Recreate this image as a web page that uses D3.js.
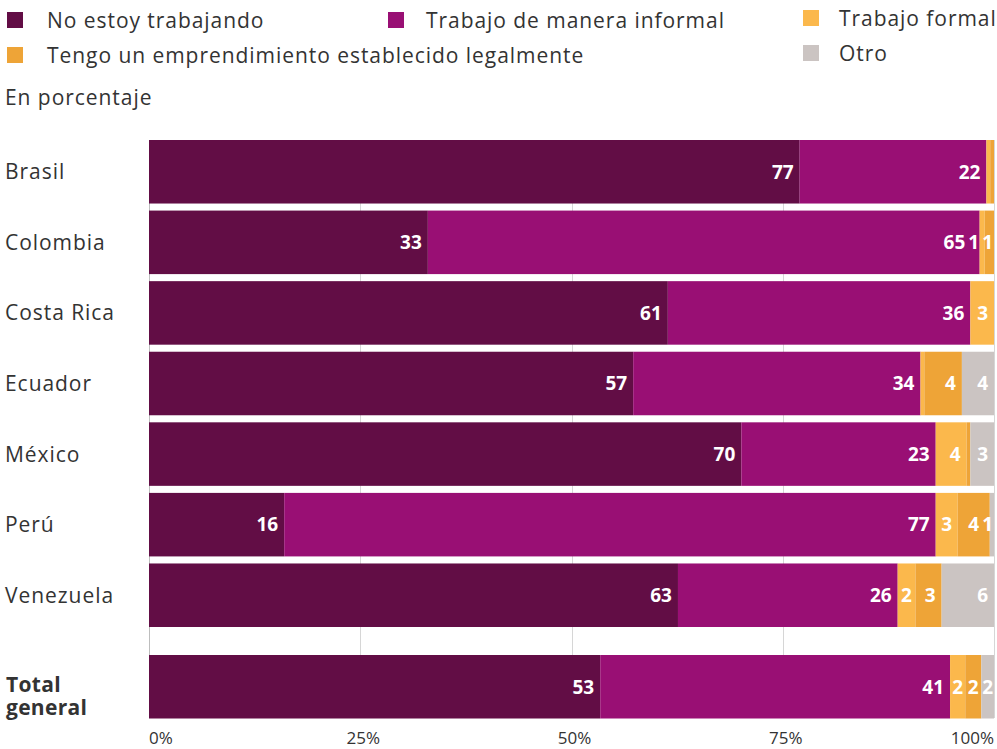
<!DOCTYPE html>
<html>
<head>
<meta charset="utf-8">
<script src="https://cdn.jsdelivr.net/npm/d3@7"></script>
<style>
  html, body { margin: 0; padding: 0; background: #fff; }
  svg { display: block; font-family: "Open Sans", Lato, sans-serif; }
</style>
</head>
<body>
<svg id="chart" width="997" height="749"></svg>
<script>
// Countries plus the overall total row
const categories = ["Brasil", "Colombia", "Costa Rica", "Ecuador", "México", "Perú", "Venezuela"];
const totalCategory = "Total general";

const seriesNames = [
  "No estoy trabajando",
  "Trabajo de manera informal",
  "Trabajo formal",
  "Tengo un emprendimiento establecido legalmente",
  "Otro"
];
const seriesColors = ["#620d45", "#990f74", "#fbb84c", "#eea437", "#cbc4c2"];

// Percent values, one entry per row (countries then total)
const noTrabajando   = [77.0, 33.0, 61.4, 57.3, 70.1, 16.0, 62.6, 53.4];
const informal       = [22.1, 65.3, 35.8, 34.0, 23.0, 77.1, 26.0, 41.4];
const formal         = [0.45, 0.6, 2.8, 0.45, 3.65, 2.6, 2.1, 1.8];
const emprendimiento = [0.45, 1.1, 0.0, 4.45, 0.45, 3.8, 3.1, 1.9];
const otro           = [0.0, 0.0, 0.0, 3.8, 2.8, 0.5, 6.2, 1.5];

const xTicks = [0, 25, 50, 75, 100];

const svg = d3.select("#chart");
const textColor = "#333";
const spacing = "0.95px";

const rows = categories.concat([totalCategory]);
const table = rows.map((name, i) => ({
  name,
  values: [noTrabajando[i], informal[i], formal[i], emprendimiento[i], otro[i]]
}));

const x = d3.scaleLinear().domain([0, 100]).range([149, 994]);
const yCountries = d3.scaleBand().domain(categories).range([140, 627]).paddingInner(0.1);
const yTotal = d3.scaleBand().domain([totalCategory]).range([655, 718.5]);
const yPos = name => name === totalCategory ? yTotal(name) : yCountries(name);
const bandH = yCountries.bandwidth();

// Gridlines behind the bars
const gridG = svg.append("g");
gridG.selectAll("line").data(xTicks).join("line")
  .attr("x1", d => Math.round(x(d)) + 0.5).attr("x2", d => Math.round(x(d)) + 0.5)
  .attr("y1", 140).attr("y2", 718)
  .attr("stroke", d => d === 0 ? "#bdbdbd" : "#d6d6d6").attr("stroke-width", 1);

// Stacked segments
const stacked = table.map(row => {
  let acc = 0;
  return row.values.map((v, k) => {
    const seg = { row: row.name, k, v, x0: acc, x1: acc + v };
    acc += v;
    return seg;
  });
});

const barsG = svg.append("g");
stacked.forEach(segs => {
  barsG.selectAll(null).data(segs.filter(s => s.v > 0)).join("rect")
    .attr("x", s => x(s.x0))
    .attr("width", s => x(s.x1) - x(s.x0))
    .attr("y", s => yPos(s.row))
    .attr("height", s => s.row === totalCategory ? yTotal.bandwidth() : bandH)
    .attr("fill", s => seriesColors[s.k]);
});

// Value labels inside segments: right-aligned when they fit, centred otherwise,
// then nudged leftwards so neighbouring labels never collide
const labelG = svg.append("g")
  .attr("font-size", 19).attr("font-weight", 700).attr("fill", "#fff");
const pad = 6;
stacked.forEach(segs => {
  const items = [];
  segs.forEach(s => {
    const r = Math.round(s.v);
    if (r < 1) return;
    const h = s.row === totalCategory ? yTotal.bandwidth() : bandH;
    const t = labelG.append("text")
      .attr("y", yPos(s.row) + h / 2)
      .attr("dy", "0.36em")
      .attr("text-anchor", "end")
      .text(r);
    const w = t.node().getComputedTextLength();
    const segW = x(s.x1) - x(s.x0);
    let right = segW >= w + 2 * pad ? x(s.x1) - pad : (x(s.x0) + x(s.x1)) / 2 + w / 2;
    items.push({ t, w, right });
  });
  let limit = x(100) - 1;
  for (let i = items.length - 1; i >= 0; i--) {
    const it = items[i];
    it.right = Math.min(it.right, limit);
    limit = it.right - it.w - 3;
    it.t.attr("x", it.right);
  }
});

// Category labels
const catG = svg.append("g").attr("fill", textColor).attr("font-size", 21)
  .attr("letter-spacing", spacing);
categories.forEach(c => {
  catG.append("text").attr("x", 5).attr("y", yCountries(c) + bandH / 2).attr("dy", "0.36em").text(c);
});
const totalText = catG.append("text").attr("font-weight", 700).attr("letter-spacing", "0.3px")
  .attr("y", yTotal(totalCategory) + yTotal.bandwidth() / 2);
totalText.append("tspan").attr("x", 6).attr("dy", "0.25em").text("Total");
totalText.append("tspan").attr("x", 6).attr("dy", "1.1em").text("general");

// X axis tick labels
const axisG = svg.append("g").attr("fill", textColor).attr("font-size", 17);
axisG.selectAll("text").data(xTicks).join("text")
  .attr("x", d => d === 0 ? x(d) : d === 100 ? x(d) : x(d) + 3)
  .attr("y", 744)
  .attr("text-anchor", d => d === 0 ? "start" : d === 100 ? "end" : "middle")
  .text(d => d + "%");

// Legend
const legendPos = [[7, 12], [388, 12], [803, 10], [7, 47], [803, 45]];
const legendTextX = { 7: 47, 388: 426, 803: 839 };
const legG = svg.append("g").attr("font-size", 21).attr("fill", textColor)
  .attr("letter-spacing", spacing);
seriesNames.forEach((name, i) => {
  const [lx, ly] = legendPos[i];
  legG.append("rect").attr("x", lx).attr("y", ly).attr("width", 16).attr("height", 16)
    .attr("fill", seriesColors[i]);
  legG.append("text").attr("x", legendTextX[lx])
    .attr("y", ly + 8).attr("dy", "0.36em").text(name);
});

svg.append("text").attr("x", 5).attr("y", 97).attr("dy", "0.36em")
  .attr("font-size", 21).attr("letter-spacing", spacing).attr("fill", textColor).text("En porcentaje");
</script>
</body>
</html>
